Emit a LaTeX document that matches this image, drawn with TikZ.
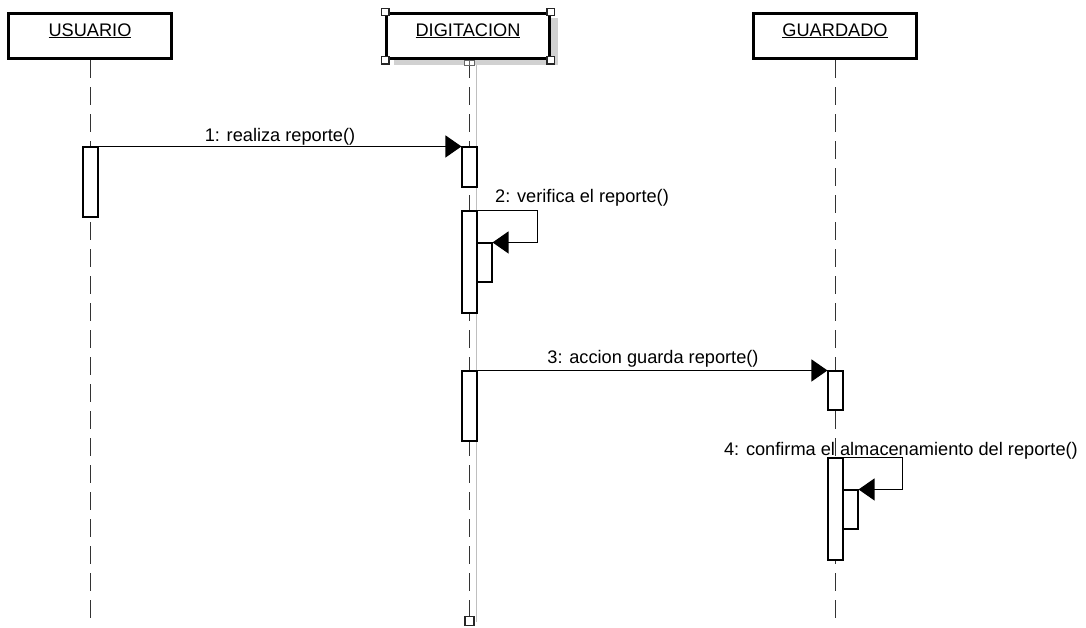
\documentclass[tikz,border=0pt]{standalone}
\usepackage{fontspec}
\setmainfont{Liberation Sans}
\usetikzlibrary{arrows.meta}
\begin{document}
\begin{tikzpicture}[x=1pt,y=-1pt,
  font=\fontsize{18.2}{20}\selectfont,
  head/.style={draw, line width=2.6pt, fill=white, minimum width=163pt, minimum height=45.5pt,
    inner sep=0pt, text height=8pt, text depth=8pt},
  life/.style={draw=black!80, line width=1.1pt, dash pattern=on 18pt off 9pt},
  act/.style={draw, line width=1.1pt, fill=white, minimum width=15pt, inner sep=0pt},
  msg/.style={line width=1.2pt, -{Triangle[length=16pt,width=22pt]}},
  lbl/.style={inner sep=0pt},
  handle/.style={draw=black!85, line width=1.4pt, fill=white, minimum size=7.5pt, inner sep=0pt},
  tinyhandle/.style={draw=black!60, line width=0.8pt, fill=white, minimum size=5pt, inner sep=0pt},
]
\useasboundingbox (0,0) rectangle (1086,627);

% shadow of the selected DIGITACION head and its selection guide
\fill[black!18] (394,18) rectangle (558,65);
\draw[black!25, line width=1pt] (476,65) -- (476,622);

% lifeline heads
\node[head] (usr) at (90,36) {\underline{USUARIO}};
\node[head] (dig) at (468,36) {\underline{DIGITACION}};
\node[head] (grd) at (835,36) {\underline{GUARDADO}};

% lifeline ends
\coordinate (usrEnd) at (90.5,622);
\coordinate (digEnd) at (469.5,616);
\coordinate (grdEnd) at (835.5,622);

% lifelines
\draw[life] (usr.south -| usrEnd) -- (usrEnd);
\draw[life] (dig.south -| digEnd) -- (digEnd);
\draw[life] (grd.south -| grdEnd) -- (grdEnd);

% message labels
\node[lbl, anchor=base] (m1) at (280,141) {1: realiza reporte()};
\node[lbl, anchor=base west] (m2) at (495,202) {2: verifica el reporte()};
\node[lbl, anchor=base] (m3) at (653,363) {3: accion guarda reporte()};
\node[lbl, anchor=base east] (m4) at (1078,455) {4: confirma el almacenamiento del reporte()};

% activation bars
\node[act, minimum height=70pt]  (u1)  at (90.5,182) {};
\node[act, minimum height=40pt]  (d1)  at (469.5,167) {};
\node[act, minimum height=102pt] (d2)  at (469.5,262) {};
\node[act, minimum height=39pt]  (d2n) at (484.5,262.5) {};
\node[act, minimum height=70pt]  (d3)  at (469.5,406) {};
\node[act, minimum height=39pt]  (g1)  at (835.5,390.5) {};
\node[act, minimum height=102pt] (g2)  at (835.5,509) {};
\node[act, minimum height=39pt]  (g2n) at (850.5,509.5) {};

% messages
\draw[msg] (u1.north east) -- (d1.north west);
\draw[msg] (d2.north east) -- ++(60,0) |- (d2n.north east);
\draw[msg] (d3.north east) -- (g1.north west);
\draw[msg] (g2.north east) -- ++(59,0) |- (g2n.north east);

% selection handles
\node[handle] (hnw) at (dig.north west) {};
\node[handle] (hne) at (dig.north east) {};
\node[handle] (hsw) at (dig.south west) {};
\node[handle] (hse) at (dig.south east) {};
\node[tinyhandle] (hl1) at (466.5,63) {};
\node[tinyhandle] (hl2) at (471.5,63) {};
\node[handle, minimum size=9pt, line width=1.2pt] (hend) at (469.5,621) {};
\end{tikzpicture}
\end{document}
